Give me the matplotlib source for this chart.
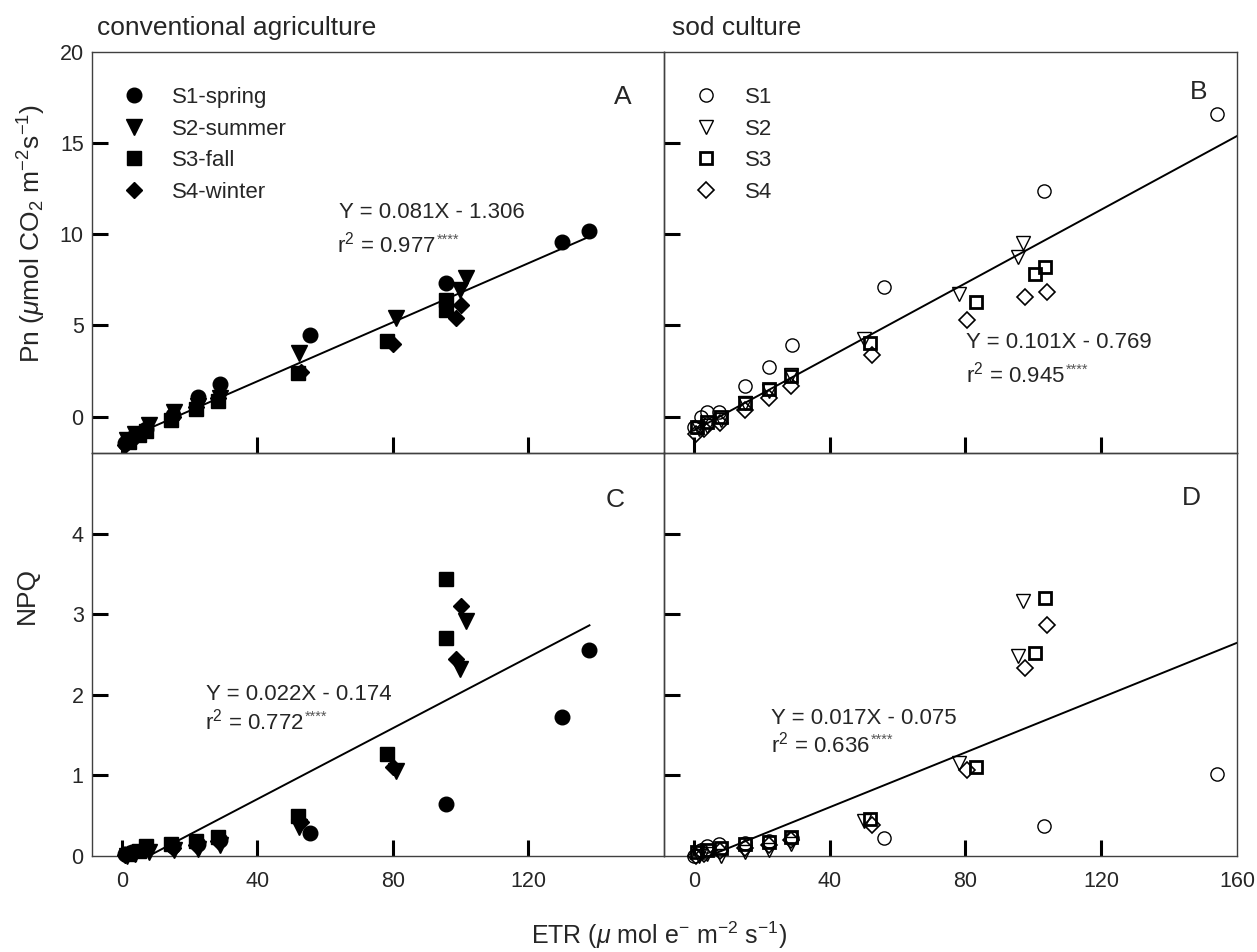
import matplotlib
matplotlib.use('Agg')
import matplotlib.pyplot as plt
import numpy as np

plt.rcParams['font.family'] = ['Liberation Sans', 'DejaVu Sans']
plt.rcParams['mathtext.fontset'] = 'custom'
plt.rcParams['mathtext.rm'] = 'Liberation Sans'
plt.rcParams['mathtext.it'] = 'Liberation Sans:italic'
plt.rcParams['mathtext.bf'] = 'Liberation Sans:bold'
plt.rcParams['mathtext.default'] = 'regular'

TXT = '#262626'

# ---------------- data: conventional agriculture ----------------
conv_labels = ['S1-spring', 'S2-summer', 'S3-fall', 'S4-winter']
conv_etr_s1 = [1, 3, 7, 15, 22.5, 29, 55.6, 95.6, 130, 138]
conv_pn_s1 = [-1.45, -1.15, -0.7, 0.1, 1.05, 1.8, 4.45, 7.35, 9.6, 10.2]
conv_npq_s1 = [0.02, 0.05, 0.1, 0.12, 0.15, 0.2, 0.28, 0.64, 1.73, 2.56]

conv_etr_s2 = [1.5, 4, 8, 15.3, 22.5, 29, 52.4, 81, 99.7, 101.5]
conv_pn_s2 = [-1.3, -0.95, -0.45, 0.25, 0.6, 1.0, 3.5, 5.4, 6.95, 7.6]
conv_npq_s2 = [0.0, 0.02, 0.05, 0.07, 0.09, 0.14, 0.36, 1.06, 2.32, 2.92]

conv_etr_s3 = [2, 5, 7, 14.5, 22, 28.5, 52, 78.4, 95.8, 95.8]
conv_pn_s3 = [-1.4, -1.0, -0.8, -0.2, 0.4, 0.85, 2.4, 4.15, 5.85, 6.4]
conv_npq_s3 = [0.03, 0.06, 0.13, 0.15, 0.19, 0.24, 0.5, 1.27, 2.71, 3.44]

conv_etr_s4 = [1, 3, 6, 15, 22, 28.5, 53, 80, 98.5, 100]
conv_pn_s4 = [-1.55, -1.2, -0.85, -0.05, 0.5, 1.0, 2.45, 4.0, 5.4, 6.1]
conv_npq_s4 = [0.01, 0.04, 0.07, 0.1, 0.14, 0.18, 0.42, 1.1, 2.45, 3.1]

# ---------------- data: sod culture ----------------
sod_labels = ['S1', 'S2', 'S3', 'S4']
sod_etr_s1 = [0, 2, 4, 7.5, 15, 22, 29, 56, 103, 154]
sod_pn_s1 = [-0.6, 0.0, 0.25, 0.25, 1.7, 2.7, 3.9, 7.1, 12.4, 16.6]
sod_npq_s1 = [0.0, 0.08, 0.12, 0.15, 0.16, 0.18, 0.22, 0.22, 0.37, 1.02]

sod_etr_s2 = [1.5, 4, 8, 15, 22, 28.5, 50, 78, 95.5, 97]
sod_pn_s2 = [-0.7, -0.5, -0.2, 0.75, 1.4, 2.3, 4.25, 6.7, 8.75, 9.5]
sod_npq_s2 = [0.0, 0.02, 0.0, 0.05, 0.08, 0.15, 0.43, 1.16, 2.48, 3.16]

sod_etr_s3 = [1, 4, 8, 15, 22, 28.5, 52, 83, 100.5, 103.5]
sod_pn_s3 = [-0.6, -0.3, 0.0, 0.75, 1.5, 2.25, 4.05, 6.3, 7.8, 8.2]
sod_npq_s3 = [0.05, 0.08, 0.1, 0.15, 0.17, 0.24, 0.46, 1.1, 2.52, 3.2]

sod_etr_s4 = [0.5, 3, 7.8, 15, 22, 28.5, 52.5, 80.5, 97.5, 104]
sod_pn_s4 = [-0.95, -0.7, -0.37, 0.36, 1.0, 1.65, 3.35, 5.3, 6.55, 6.85]
sod_npq_s4 = [0.0, 0.02, 0.06, 0.1, 0.14, 0.2, 0.39, 1.07, 2.33, 2.86]

# ---------------- regressions ----------------
fit_slope = [0.081, 0.101, 0.022, 0.017]      # A, B, C, D
fit_icept = [-1.306, -0.769, -0.174, -0.075]
fit_xmin = [0, 0, 0, 0]
fit_xmax = [138, 160, 138, 160]
eq_texts = ['Y = 0.081X - 1.306', 'Y = 0.101X - 0.769',
            'Y = 0.022X - 0.174', 'Y = 0.017X - 0.075']
r2_texts = ['0.977', '0.945', '0.772', '0.636']
panel_letters = ['A', 'B', 'C', 'D']

x_ticks = [0, 40, 80, 120, 160]
pn_ticks = [0, 5, 10, 15, 20]
npq_ticks = [0, 1, 2, 3, 4]

markers = ['o', 'v', 's', 'D']
ms_fill = [10.5, 11, 10, 8.5]
ms_open = [9.5, 10, 9, 8.5]
mew_open = [1.0, 1.0, 2.0, 1.2]

W, H = 1257, 952
fig = plt.figure(figsize=(W / 100, H / 100), dpi=100)


def px_ax(l, t, r, b):
    return [l / W, 1 - b / H, (r - l) / W, (b - t) / H]


axA = fig.add_axes(px_ax(92, 52, 664, 453))
axB = fig.add_axes(px_ax(664, 52, 1237, 453))
axC = fig.add_axes(px_ax(92, 453, 664, 856))
axD = fig.add_axes(px_ax(664, 453, 1237, 856))
axes = [axA, axB, axC, axD]

conv_etr = [conv_etr_s1, conv_etr_s2, conv_etr_s3, conv_etr_s4]
conv_pn = [conv_pn_s1, conv_pn_s2, conv_pn_s3, conv_pn_s4]
conv_npq = [conv_npq_s1, conv_npq_s2, conv_npq_s3, conv_npq_s4]
sod_etr = [sod_etr_s1, sod_etr_s2, sod_etr_s3, sod_etr_s4]
sod_pn = [sod_pn_s1, sod_pn_s2, sod_pn_s3, sod_pn_s4]
sod_npq = [sod_npq_s1, sod_npq_s2, sod_npq_s3, sod_npq_s4]

# regression lines first (behind markers)
for i, ax in enumerate(axes):
    xs = np.array([fit_xmin[i], fit_xmax[i]], dtype=float)
    ax.plot(xs, fit_slope[i] * xs + fit_icept[i], color='black', lw=1.4, zorder=2)

for k in range(4):
    axA.plot(conv_etr[k], conv_pn[k], ls='none', marker=markers[k], ms=ms_fill[k],
             mfc='black', mec='black', label=conv_labels[k], zorder=3, clip_on=False)
    axC.plot(conv_etr[k], conv_npq[k], ls='none', marker=markers[k], ms=ms_fill[k],
             mfc='black', mec='black', zorder=3, clip_on=False)
    axB.plot(sod_etr[k], sod_pn[k], ls='none', marker=markers[k], ms=ms_open[k],
             mfc='none', mec='black', mew=mew_open[k], label=sod_labels[k], zorder=3,
             clip_on=False)
    axD.plot(sod_etr[k], sod_npq[k], ls='none', marker=markers[k], ms=ms_open[k],
             mfc='none', mec='black', mew=mew_open[k], zorder=3, clip_on=False)

for ax in axes:
    ax.set_xlim(-8.8, 160)
    ax.set_xticks(x_ticks)
    for sp in ax.spines.values():
        sp.set_linewidth(1.0)
        sp.set_color('#404040')
    ax.tick_params(direction='in', length=11.5, width=2.2, color='black',
                   labelsize=15.5, labelcolor=TXT, top=False, right=False)
    ax.tick_params(axis='x', pad=11)
    ax.tick_params(axis='y', pad=6)
    ax.set_facecolor('none')

for ax in (axA, axB):
    ax.set_ylim(-2, 20)
    ax.set_yticks(pn_ticks)
    ax.tick_params(labelbottom=False)
    ax.yaxis.get_major_ticks()[-1].tick1line.set_visible(False)
    ax.xaxis.get_major_ticks()[-1].tick1line.set_visible(False)
for ax in (axC, axD):
    ax.set_ylim(0, 5)
    ax.set_yticks(npq_ticks)
    ax.yaxis.get_major_ticks()[0].tick1line.set_visible(False)
    ax.xaxis.get_major_ticks()[-1].tick1line.set_visible(False)
axB.tick_params(labelleft=False)
axD.tick_params(labelleft=False)
axA.xaxis.get_major_ticks()[-1].set_visible(False)
axC.xaxis.get_major_ticks()[-1].set_visible(False)

# legends
legA = axA.legend(loc='upper left', bbox_to_anchor=(0.054, 0.913), frameon=False,
                  fontsize=16, handlelength=1.0, handletextpad=1.21, borderpad=0,
                  borderaxespad=0, labelspacing=0.48, numpoints=1)
legB = axB.legend(loc='upper left', bbox_to_anchor=(0.054, 0.913), frameon=False,
                  fontsize=16, handlelength=1.0, handletextpad=1.26, borderpad=0,
                  borderaxespad=0, labelspacing=0.48, numpoints=1)
for leg in (legA, legB):
    for t in leg.get_texts():
        t.set_color(TXT)


def ftext(x, y, s, **kw):
    kw.setdefault('color', TXT)
    return fig.text(x / W, 1 - y / H, s, **kw)


# titles
ftext(97, 28, 'conventional agriculture', ha='left', va='center', fontsize=19)
ftext(672, 28, 'sod culture', ha='left', va='center', fontsize=19)

# axis labels
ftext(32, 233, 'Pn ($\\mathit{\\mu}$mol CO$_2$ m$^{-2}$s$^{-1}$)', rotation=90,
      ha='center', va='center', fontsize=19)
ftext(27, 596, 'NPQ', rotation=90, ha='center', va='center', fontsize=19)
ftext(659, 935, 'ETR ($\\mathit{\\mu}$ mol e$^{-}$ m$^{-2}$ s$^{-1}$)', ha='center',
      va='center', fontsize=18)

# panel letters
letter_pos = [(623, 97), (1199, 92), (615, 500), (1191, 498)]
for (x, y), s in zip(letter_pos, panel_letters):
    ftext(x, y, s, ha='center', va='center', fontsize=19)

# equations
eq_pos = [(339, 213), (966, 342), (206, 695), (771, 718)]
r2_pos = [(337, 245), (966, 375), (205, 722), (771, 745)]
fig.canvas.draw()
for i in range(4):
    ftext(eq_pos[i][0], eq_pos[i][1], eq_texts[i], ha='left', va='center', fontsize=16)
    t = ftext(r2_pos[i][0], r2_pos[i][1], 'r$^2$ = ' + r2_texts[i], ha='left',
              va='center', fontsize=16)
    bb = t.get_window_extent(renderer=fig.canvas.get_renderer())
    ftext(bb.x1 + 1, H - bb.y1 + 1, '****', ha='left', va='top', fontsize=10.5,
          color='#555555')

fig.savefig('out.png', dpi=100)
